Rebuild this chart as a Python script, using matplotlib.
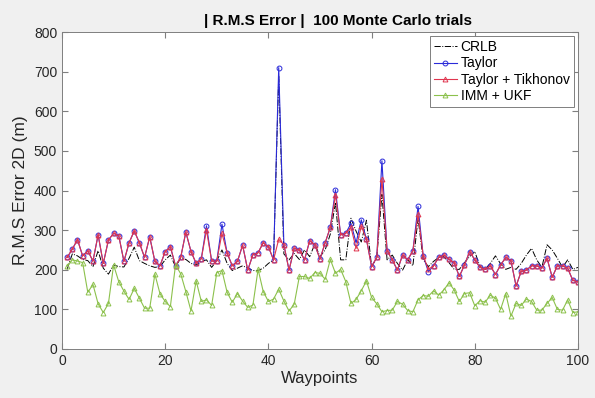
import numpy as np
import matplotlib.pyplot as plt

plt.rcParams['font.family'] = ['Liberation Sans', 'DejaVu Sans']

# waypoints 1..100
waypoints = np.arange(1, 101)

crlb = [201, 240, 235, 226, 223, 208, 248, 204, 189, 212,
        208, 207, 229, 257, 223, 216, 210, 206, 208, 225,
        237, 208, 229, 226, 216, 212, 221, 225, 206, 223,
        250, 216, 198, 204, 210, 204, 198, 198, 204, 216,
        225, 690, 240, 225, 241, 226, 250, 233, 265, 233,
        250, 290, 370, 225, 225, 330, 297, 270, 325, 208,
        230, 390, 225, 237, 216, 199, 225, 210, 330, 225,
        208, 221, 231, 233, 218, 201, 201, 218, 233, 246,
        208, 201, 216, 235, 215, 201, 206, 201, 216, 237,
        254, 225, 206, 263, 250, 229, 206, 225, 201, 206]

taylor_tik = [231, 252, 276, 235, 248, 222, 288, 216, 275, 292,
              286, 221, 268, 298, 268, 231, 283, 221, 210, 246,
              258, 210, 231, 295, 246, 216, 228, 300, 222, 222,
              292, 242, 210, 221, 262, 199, 238, 243, 268, 258,
              225, 277, 263, 199, 254, 250, 225, 273, 263, 227,
              268, 307, 389, 288, 292, 307, 254, 310, 277, 208,
              231, 430, 248, 225, 199, 237, 225, 248, 340, 235,
              201, 210, 231, 237, 226, 218, 183, 212, 246, 225,
              206, 201, 210, 188, 212, 231, 223, 159, 196, 199,
              210, 210, 204, 229, 181, 210, 210, 204, 173, 170]

# Taylor follows Tikhonov closely except at a few waypoints
taylor = list(taylor_tik)
taylor[27] = 311
taylor[30] = 315
taylor[41] = 710
taylor[52] = 402
taylor[55] = 317
taylor[56] = 268
taylor[57] = 326
taylor[61] = 475
taylor[68] = 360
taylor[70] = 195

imm_ukf = [210, 225, 222, 218, 143, 163, 114, 92, 115, 212,
           170, 146, 125, 153, 128, 103, 103, 189, 139, 120,
           107, 212, 190, 145, 96, 172, 120, 124, 110, 193,
           198, 143, 118, 140, 121, 105, 111, 201, 145, 120,
           126, 151, 121, 96, 113, 183, 183, 178, 193, 191,
           176, 226, 191, 201, 170, 115, 125, 147, 172, 130,
           114, 94, 97, 98, 120, 113, 97, 94, 124, 135,
           133, 147, 136, 149, 167, 149, 120, 140, 142, 109,
           122, 118, 136, 128, 100, 140, 83, 115, 110, 126,
           120, 98, 98, 115, 130, 100, 98, 124, 92, 94]

fig = plt.figure(figsize=(5.95, 3.98), dpi=100, facecolor='#f0f0f0')
ax = fig.add_axes([62 / 595, 1 - 349 / 398, 516 / 595, 317 / 398])

ax.plot(waypoints, crlb, color='black', linestyle='-.', linewidth=0.7, label='CRLB')
ax.plot(waypoints, taylor, color='#2b2bd9', linewidth=0.8, marker='o', markersize=3.5,
        markerfacecolor='none', markeredgewidth=0.7, label='Taylor')
ax.plot(waypoints, taylor_tik, color='#e0364f', linewidth=0.8, marker='^', markersize=3.5,
        markerfacecolor='none', markeredgewidth=0.7, label='Taylor + Tikhonov')
ax.plot(waypoints, imm_ukf, color='#8cc14c', linewidth=0.8, marker='^', markersize=3.5,
        markerfacecolor='none', markeredgewidth=0.7, label='IMM + UKF')

ax.set_xlim(0, 100)
ax.set_ylim(0, 800)
ax.set_xticks(np.arange(0, 101, 20))
ax.set_yticks(np.arange(0, 801, 100))
ax.tick_params(direction='in', top=True, right=True, labelsize=10, colors='#7f7f7f',
               labelcolor='#262626', length=4)
for s in ax.spines.values():
    s.set_color('#7f7f7f')
    s.set_linewidth(0.7)

ax.set_xlabel('Waypoints', fontsize=12, color='#262626', labelpad=2)
ax.set_ylabel('R.M.S Error 2D (m)', fontsize=12.5, color='#262626', labelpad=4)
ax.set_title('| R.M.S Error |  100 Monte Carlo trials', fontsize=11, fontweight='bold',
             pad=5, x=0.535)

leg = ax.legend(loc='upper right', fontsize=10, handlelength=1.6, handletextpad=0.3,
                borderpad=0.3, labelspacing=0.15, fancybox=False, framealpha=1,
                borderaxespad=0.3)
leg.get_frame().set_edgecolor('#7f7f7f')
leg.get_frame().set_linewidth(0.7)

fig.savefig('out.png', dpi=100, facecolor=fig.get_facecolor())
